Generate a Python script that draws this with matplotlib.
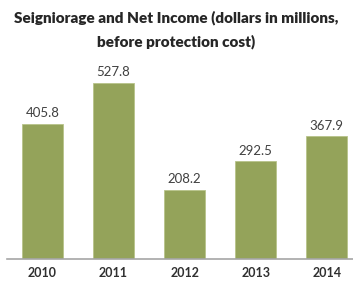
import matplotlib.pyplot as plt

years = ['2010', '2011', '2012', '2013', '2014']
values = [405.8, 527.8, 208.2, 292.5, 367.9]

plt.rcParams['font.family'] = ['Lato', 'DejaVu Sans']

fig = plt.figure(figsize=(3.53, 2.82), dpi=100)
ax = fig.add_axes([7 / 353, 23 / 282, 346 / 353, 200 / 282])

x = range(len(years))
bars = ax.bar(x, values, width=0.58, color='#94a35a', edgecolor='#b8c48a', linewidth=0.6)
for xi, v in zip(x, values):
    ax.text(xi, v + 14, '{:.1f}'.format(v), ha='center', va='bottom', fontsize=9.5, color='#404040')

ax.set_xlim(-0.5, 4.37)
ax.set_ylim(0, 600)
ax.set_xticks(list(x))
ax.set_xticklabels(years, fontsize=9, fontweight='bold', color='#303030')
ax.tick_params(axis='x', length=0, pad=6)
ax.set_yticks([])
for s in ['top', 'right', 'left']:
    ax.spines[s].set_visible(False)
ax.spines['bottom'].set_color('#a6a6a6')
ax.spines['bottom'].set_linewidth(1.2)

fig.text(0.5, 0.936, 'Seigniorage and Net Income (dollars in millions,', ha='center', va='center',
         fontsize=11, fontweight='heavy', color='#262626')
fig.text(0.5, 0.851, 'before protection cost)', ha='center', va='center',
         fontsize=11, fontweight='heavy', color='#262626')

fig.savefig('out.png', dpi=100)
